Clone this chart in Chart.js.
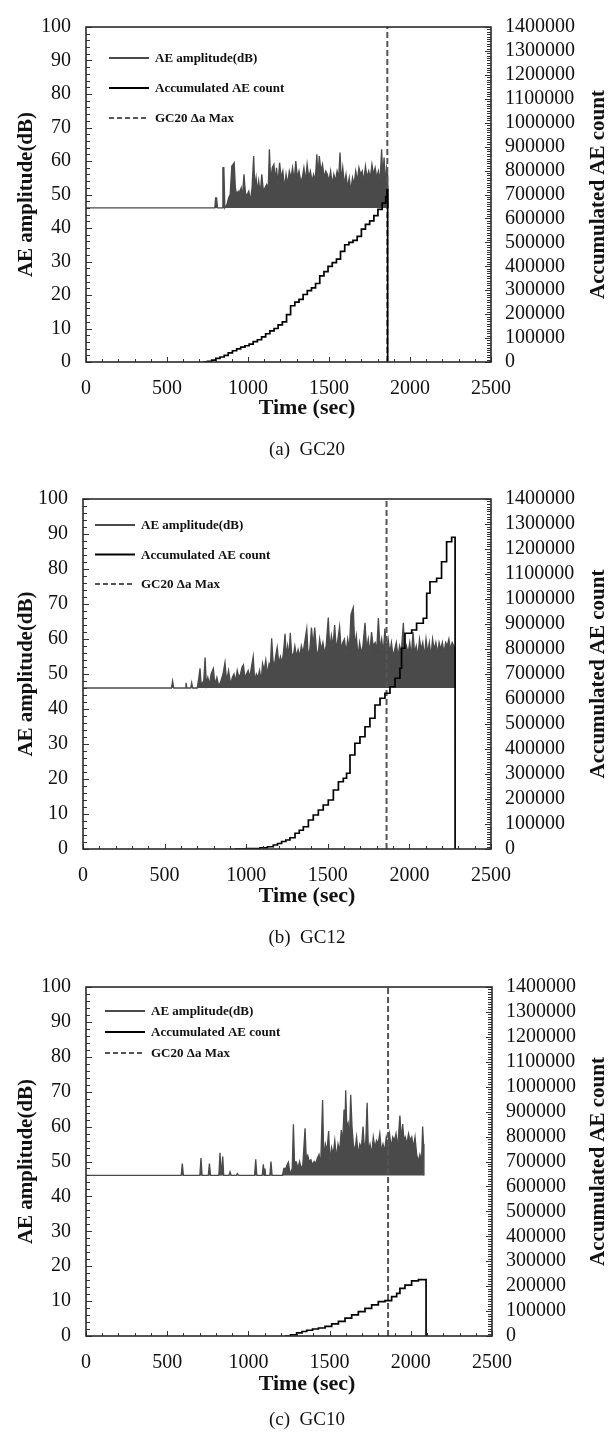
<!DOCTYPE html>
<html>
<head>
<meta charset="utf-8">
<script src="https://cdn.jsdelivr.net/npm/chart.js@4.4.1/dist/chart.umd.min.js"></script>
<style>
  body { margin: 0; background: #fff; width: 613px; height: 1435px; position: relative; overflow: hidden;
         font-family: "Liberation Serif", "Times New Roman", serif; color: #111; }
  .box { position: absolute; left: 0; width: 613px; }
  .lbl { position: absolute; transform: translate(-50%, -50%); white-space: nowrap; }
  .xt { font-weight: bold; font-size: 22px; }
  .cap { font-size: 19px; }
</style>
</head>
<body>
<div class="box" style="top:0;height:400px"><canvas id="c1" width="613" height="400"></canvas></div>
<div class="box" style="top:470px;height:420px"><canvas id="c2" width="613" height="420"></canvas></div>
<div class="box" style="top:960px;height:420px"><canvas id="c3" width="613" height="420"></canvas></div>

<div class="lbl xt" style="left:307px;top:407px">Time (sec)</div>
<div class="lbl cap" style="left:307px;top:449px">(a)&nbsp;&nbsp;GC20</div>
<div class="lbl xt" style="left:307px;top:895px">Time (sec)</div>
<div class="lbl cap" style="left:307px;top:937px">(b)&nbsp;&nbsp;GC12</div>
<div class="lbl xt" style="left:307px;top:1383px">Time (sec)</div>
<div class="lbl cap" style="left:307px;top:1419px">(c)&nbsp;&nbsp;GC10</div>

<script>
// time of GC20 max crack growth rate (dashed line, same in all three panels)
const gc20DaMax = 1860;

// ---- (a) GC20 ----
const ampTime1 = [0, 795, 800, 806, 812, 840, 845, 851, 857, 870,
  880, 890, 900, 908, 915, 922, 930, 940, 950, 958,
  965, 975, 985, 995, 1005, 1015, 1025, 1035, 1042, 1050,
  1058, 1066, 1075, 1085, 1095, 1105, 1115, 1125, 1132, 1140,
  1150, 1160, 1168, 1176, 1185, 1195, 1205, 1215, 1225, 1235,
  1245, 1255, 1265, 1275, 1285, 1295, 1305, 1315, 1325, 1335,
  1345, 1355, 1365, 1375, 1385, 1395, 1405, 1415, 1425, 1432,
  1440, 1450, 1460, 1470, 1480, 1490, 1500, 1510, 1520, 1530,
  1540, 1550, 1560, 1568, 1576, 1585, 1595, 1605, 1615, 1625,
  1635, 1645, 1655, 1665, 1675, 1685, 1695, 1705, 1715, 1725,
  1735, 1745, 1755, 1765, 1775, 1785, 1795, 1805, 1815, 1825,
  1832, 1840, 1848, 1855, 1862, 1866];
const ampDb1 = [46, 46, 49, 49, 46, 46, 58, 58, 46, 47,
  49, 50, 58.5, 59, 59.5, 52, 50, 51, 51, 52,
  49, 56, 50, 50, 51, 48, 52, 61.5, 52, 55,
  51, 54, 50, 56, 51, 52, 53, 52, 63.5, 54,
  58, 59, 54, 58, 53, 59.5, 55, 57, 52, 56,
  53, 57, 55, 58, 54, 60, 55, 57, 54, 55,
  58, 54, 59, 55, 57, 54, 56, 54, 62, 55,
  61.5, 57, 59, 55, 57, 56, 54, 57, 53, 56,
  54, 57, 55, 62.5, 54, 58, 53, 56, 52, 55,
  51, 55, 53, 57, 54, 58, 56, 57, 54, 58.5,
  55, 57, 55, 59, 56, 58, 55, 57, 54, 63.5,
  55, 61, 53, 58, 56, 46];
const cntTime1 = [724, 750, 776, 801, 827, 853, 878, 904, 930, 955,
  981, 1007, 1032, 1058, 1084, 1109, 1135, 1161, 1186, 1212,
  1238, 1263, 1289, 1315, 1340, 1366, 1392, 1417, 1443, 1469,
  1494, 1520, 1546, 1571, 1597, 1623, 1648, 1674, 1700, 1725,
  1751, 1777, 1802, 1828, 1850, 1858, 1862];
const cntVal1 = [0, 3000, 8000, 15000, 21000, 28000, 38000, 47000, 55000, 62000,
  68000, 75000, 85000, 93000, 105000, 118000, 130000, 140000, 155000, 168000,
  198000, 235000, 250000, 262000, 282000, 298000, 310000, 328000, 360000, 378000,
  400000, 415000, 430000, 462000, 490000, 500000, 508000, 525000, 555000, 575000,
  590000, 612000, 638000, 664000, 690000, 720000, 0];

// ---- (b) GC12 ----
const ampTime2 = [0, 542, 549, 556, 625, 631, 637, 660, 666, 672,
  700, 710, 717, 724, 740, 748, 756, 765, 775, 785,
  799, 808, 820, 832, 845, 858, 870, 880, 892, 905,
  915, 925, 935, 945, 955, 965, 975, 983, 992, 1002,
  1012, 1022, 1032, 1043, 1052, 1062, 1072, 1082, 1092, 1100,
  1110, 1120, 1130, 1140, 1148, 1156, 1164, 1172, 1180, 1190,
  1200, 1210, 1220, 1230, 1238, 1246, 1254, 1262, 1270, 1278,
  1288, 1298, 1308, 1318, 1328, 1338, 1348, 1358, 1371, 1380,
  1390, 1400, 1410, 1420, 1430, 1440, 1450, 1460, 1470, 1480,
  1490, 1503, 1512, 1522, 1532, 1542, 1552, 1562, 1572, 1582,
  1592, 1602, 1612, 1622, 1632, 1642, 1656, 1665, 1675, 1685,
  1695, 1705, 1715, 1728, 1738, 1748, 1758, 1768, 1778, 1790,
  1800, 1810, 1820, 1830, 1840, 1850, 1860, 1870, 1880, 1890,
  1900, 1910, 1920, 1930, 1940, 1950, 1963, 1972, 1982, 1992,
  2002, 2012, 2022, 2032, 2042, 2052, 2062, 2072, 2082, 2092,
  2102, 2112, 2122, 2132, 2142, 2152, 2162, 2172, 2182, 2192,
  2202, 2212, 2222, 2232, 2242, 2252, 2262, 2272, 2279, 2280];
const ampDb2 = [46, 46, 48, 46, 46, 47.5, 46, 46, 47.5, 46,
  46, 49, 51.6, 47, 48, 54.7, 47, 49, 47, 50,
  51.6, 47, 49, 46.5, 48, 50, 53.3, 48, 51, 47,
  49, 50, 48, 51, 49, 50, 52, 52.6, 49, 50,
  51, 49, 52, 55, 48, 50, 49, 51, 48, 53,
  51, 54, 50, 53, 52, 60.2, 54, 52, 55, 57.6,
  53, 55, 53, 57, 61.5, 55, 58, 55, 61.8, 56,
  55, 58, 55, 57, 55, 58, 56, 59, 62.9, 55,
  57, 63.3, 58, 63.3, 57, 55, 60, 57, 59, 56,
  58, 66.1, 57, 61, 58, 64, 57, 60, 63.5, 57,
  59, 60, 56, 60, 57, 67, 69, 58, 61, 55,
  59, 56, 58, 64.6, 57, 60, 56, 62, 58, 59,
  57, 66, 57, 60, 56, 63, 57, 60, 56, 59,
  55, 57, 59, 55, 58, 56, 64.6, 55, 58, 56,
  59, 55, 62, 56, 58, 55, 60, 57, 59, 55,
  60, 56, 59, 55, 60, 57, 59, 56, 59, 57,
  59, 56, 59, 58, 60, 57, 59, 58, 57.5, 46];
const cntTime2 = [931, 1000, 1085, 1130, 1166, 1192, 1217, 1243, 1268, 1299,
  1325, 1350, 1381, 1411, 1442, 1472, 1503, 1534, 1565, 1595,
  1615, 1636, 1666, 1697, 1728, 1758, 1789, 1820, 1850, 1881,
  1912, 1942, 1952, 1973, 2014, 2044, 2085, 2106, 2126, 2167,
  2197, 2228, 2259, 2280];
const cntVal2 = [0, 1500, 5000, 9000, 16000, 22000, 30000, 36000, 45000, 63000,
  75000, 89000, 116000, 136000, 156000, 176000, 196000, 236000, 269000, 283000,
  303000, 376000, 423000, 449000, 489000, 523000, 576000, 603000, 623000, 649000,
  683000, 723000, 803000, 863000, 876000, 903000, 923000, 1023000, 1069000, 1083000,
  1149000, 1229000, 1247000, 0];

// ---- (c) GC10 ----
const ampTime3 = [0, 586, 593, 600, 701, 708, 715, 753, 760, 767,
  818, 825, 832, 836, 842, 848, 880, 887, 894, 925,
  932, 940, 1038, 1045, 1052, 1085, 1092, 1098, 1102, 1106,
  1132, 1139, 1146, 1210, 1218, 1230, 1238, 1246, 1255, 1262,
  1270, 1277, 1284, 1295, 1305, 1315, 1325, 1335, 1349, 1356,
  1365, 1375, 1385, 1395, 1405, 1415, 1425, 1435, 1445, 1457,
  1464, 1474, 1484, 1494, 1502, 1512, 1522, 1532, 1542, 1552,
  1562, 1572, 1580, 1589, 1594, 1599, 1606, 1614, 1622, 1630,
  1638, 1646, 1656, 1666, 1676, 1686, 1696, 1706, 1715, 1723,
  1731, 1739, 1749, 1759, 1769, 1779, 1789, 1799, 1809, 1819,
  1829, 1839, 1849, 1859, 1869, 1879, 1889, 1899, 1909, 1919,
  1933, 1941, 1950, 1958, 1966, 1976, 1986, 1996, 2006, 2016,
  2026, 2036, 2046, 2056, 2066, 2073, 2078, 2081];
const ampDb3 = [46, 46, 49.4, 46, 46, 51, 46, 46, 49.4, 46,
  46, 52.5, 46, 46, 51.4, 46, 46, 47, 46, 46,
  46.5, 46, 46, 50.6, 46, 46, 49.2, 46, 48, 46,
  46, 50, 46, 46, 48, 48, 49, 49.8, 47, 47,
  48, 60.7, 49.9, 49.9, 48, 50, 48, 49, 59.5, 51,
  51.8, 50, 50.5, 49, 50, 49.5, 51, 52, 49, 67.6,
  51, 55, 53, 58.7, 50, 54, 52, 56, 51, 55,
  53, 59, 55, 64.9, 58, 70.4, 60, 61, 56, 69.1,
  60, 55, 53, 57, 52, 55, 54, 60, 53, 56,
  66.8, 53, 55, 52, 57, 54, 56, 55, 58, 53,
  55, 53, 57, 55, 58, 54, 57, 56, 58, 54,
  63.2, 56, 60.7, 56, 57, 55, 58, 56, 57, 54,
  57, 52, 50, 52, 50, 60, 55, 46];
const cntTime3 = [1225, 1260, 1297, 1330, 1359, 1395, 1431, 1472, 1513, 1554,
  1595, 1636, 1677, 1718, 1759, 1800, 1841, 1882, 1913, 1933,
  1964, 2005, 2047, 2094];
const cntVal3 = [0, 5000, 12600, 18000, 23000, 28000, 32000, 39000, 49000, 59000,
  72000, 85000, 98000, 111000, 125000, 138000, 142000, 158000, 171000, 191000,
  204000, 221000, 226000, 0];

// axis ranges / tick steps
const timeMax = 2500, timeStep = 500, timeMinor = 100;
const dbMax = 100, dbStep = 10, dbMinor = 2;
const countMax = 1400000, countStep = 100000, countMinor = 10000;
const ampBase = 46;

const legendLabels = ["AE amplitude(dB)", "Accumulated AE count", "GC20 \u0394a Max"];

const serif = '"Liberation Serif", "Times New Roman", serif';
const tickFont = { family: serif, size: 20 };
const plainNum = (v) => String(v);

// frame, inward ticks, legend, right axis title
const decor = {
  id: "decor",
  afterDraw(chart) {
    const { ctx, chartArea: a, scales } = chart;
    const o = chart.options.plugins.decor;
    ctx.save();

    ctx.strokeStyle = "#333";
    ctx.lineWidth = 1;
    ctx.beginPath();
    for (let v = 0; v <= timeMax; v += timeMinor) {
      const px = Math.round(scales.x.getPixelForValue(v)) + 0.5;
      const len = v % timeStep === 0 ? 5 : 3;
      ctx.moveTo(px, a.bottom); ctx.lineTo(px, a.bottom - len);
    }
    for (let v = 0; v <= dbMax; v += dbMinor) {
      const py = Math.round(scales.yLeft.getPixelForValue(v)) + 0.5;
      const len = v % dbStep === 0 ? 6 : 4;
      ctx.moveTo(a.left, py); ctx.lineTo(a.left + len, py);
    }
    for (let v = 0; v <= countMax; v += countMinor) {
      const py = Math.round(scales.yRight.getPixelForValue(v)) + 0.5;
      const len = v % countStep === 0 ? 6 : 4;
      ctx.moveTo(a.right, py); ctx.lineTo(a.right - len, py);
    }
    ctx.stroke();

    ctx.lineWidth = 1.6;
    ctx.strokeStyle = "#2a2a2a";
    ctx.strokeRect(a.left, a.top, a.right - a.left, a.bottom - a.top);

    // legend inside plot
    const lg = o.legend;
    const styles = [
      { color: "#4a4a4a", width: 2, dash: [] },
      { color: "#000", width: 2, dash: [] },
      { color: "#555", width: 2, dash: [5, 3] },
    ];
    ctx.font = "bold 13px " + serif;
    ctx.textBaseline = "middle";
    ctx.textAlign = "left";
    legendLabels.forEach((txt, i) => {
      const y = a.top + lg.dy + i * lg.gap;
      const x0 = a.left + lg.dx;
      ctx.beginPath();
      ctx.setLineDash(styles[i].dash);
      ctx.strokeStyle = styles[i].color;
      ctx.lineWidth = styles[i].width;
      ctx.moveTo(x0, y); ctx.lineTo(x0 + 40, y);
      ctx.stroke();
      ctx.setLineDash([]);
      ctx.fillStyle = "#111";
      ctx.fillText(txt, x0 + 46, y + 1);
    });

    // right axis title, reads bottom to top
    ctx.translate(599, (a.top + a.bottom) / 2);
    ctx.rotate(-Math.PI / 2);
    ctx.font = "bold 21px " + serif;
    ctx.textAlign = "center";
    ctx.fillStyle = "#111";
    ctx.fillText("Accumulated AE count", 0, 0);
    ctx.restore();
  },
};

function buildChart(canvasId, p) {
  const amp = p.ampTime.map((t, i) => ({ x: t, y: p.ampDb[i] }));
  const cnt = p.cntTime.map((t, i) => ({ x: t, y: p.cntVal[i] }));
  const canvas = document.getElementById(canvasId);

  return new Chart(canvas, {
    type: "line",
    data: {
      datasets: [
        {
          label: legendLabels[0],
          data: amp,
          yAxisID: "yLeft",
          borderColor: "#4a4a4a",
          backgroundColor: "#4a4a4a",
          borderWidth: 1.3,
          pointRadius: 0,
          tension: 0,
          fill: { value: ampBase },
          order: 3,
        },
        {
          label: legendLabels[2],
          data: [{ x: gc20DaMax, y: 0 }, { x: gc20DaMax, y: dbMax }],
          yAxisID: "yLeft",
          borderColor: "#555",
          borderWidth: 2,
          borderDash: [6, 3],
          pointRadius: 0,
          fill: false,
          order: 2,
        },
        {
          label: legendLabels[1],
          data: cnt,
          yAxisID: "yRight",
          borderColor: "#000",
          borderWidth: 1.7,
          stepped: true,
          pointRadius: 0,
          fill: false,
          order: 1,
        },
      ],
    },
    options: {
      responsive: false,
      animation: false,
      events: [],
      layout: { padding: { top: p.padTop, left: 0, right: 0, bottom: 0 } },
      plugins: {
        legend: { display: false },
        tooltip: { enabled: false },
        decor: { legend: p.legend },
      },
      scales: {
        x: {
          type: "linear",
          min: 0,
          max: timeMax,
          ticks: { stepSize: timeStep, padding: 15, maxRotation: 0, autoSkip: false,
                   font: tickFont, color: "#111", callback: plainNum },
          grid: { display: false, drawTicks: false },
          border: { display: false },
          afterFit: (s) => { s.height = canvas.height - p.bottom; },
        },
        yLeft: {
          type: "linear",
          position: "left",
          min: 0,
          max: dbMax,
          ticks: { stepSize: dbStep, padding: 15, autoSkip: false, font: tickFont, color: "#111" },
          grid: { display: false, drawTicks: false },
          border: { display: false },
          title: {
            display: true,
            text: "AE amplitude(dB)",
            font: { family: serif, size: 21, weight: "bold" },
            color: "#111",
            padding: { top: 14, bottom: 0 },
          },
          afterFit: (s) => { s.width = p.left; },
        },
        yRight: {
          type: "linear",
          position: "right",
          min: 0,
          max: countMax,
          ticks: { stepSize: countStep, padding: 14, autoSkip: false,
                   font: tickFont, color: "#111", callback: plainNum },
          grid: { display: false, drawTicks: false },
          border: { display: false },
          afterFit: (s) => { s.width = 613 - p.right; },
        },
      },
    },
    plugins: [decor],
  });
}

buildChart("c1", {
  ampTime: ampTime1, ampDb: ampDb1, cntTime: cntTime1, cntVal: cntVal1,
  padTop: 11, bottom: 362, left: 86, right: 491,
  legend: { dx: 23, dy: 31, gap: 30 },
});
buildChart("c2", {
  ampTime: ampTime2, ampDb: ampDb2, cntTime: cntTime2, cntVal: cntVal2,
  padTop: 29, bottom: 379, left: 83, right: 491,
  legend: { dx: 12, dy: 26, gap: 29.5 },
});
buildChart("c3", {
  ampTime: ampTime3, ampDb: ampDb3, cntTime: cntTime3, cntVal: cntVal3,
  padTop: 22, bottom: 376, left: 86, right: 492,
  legend: { dx: 19, dy: 24, gap: 21 },
});
</script>
</body>
</html>
